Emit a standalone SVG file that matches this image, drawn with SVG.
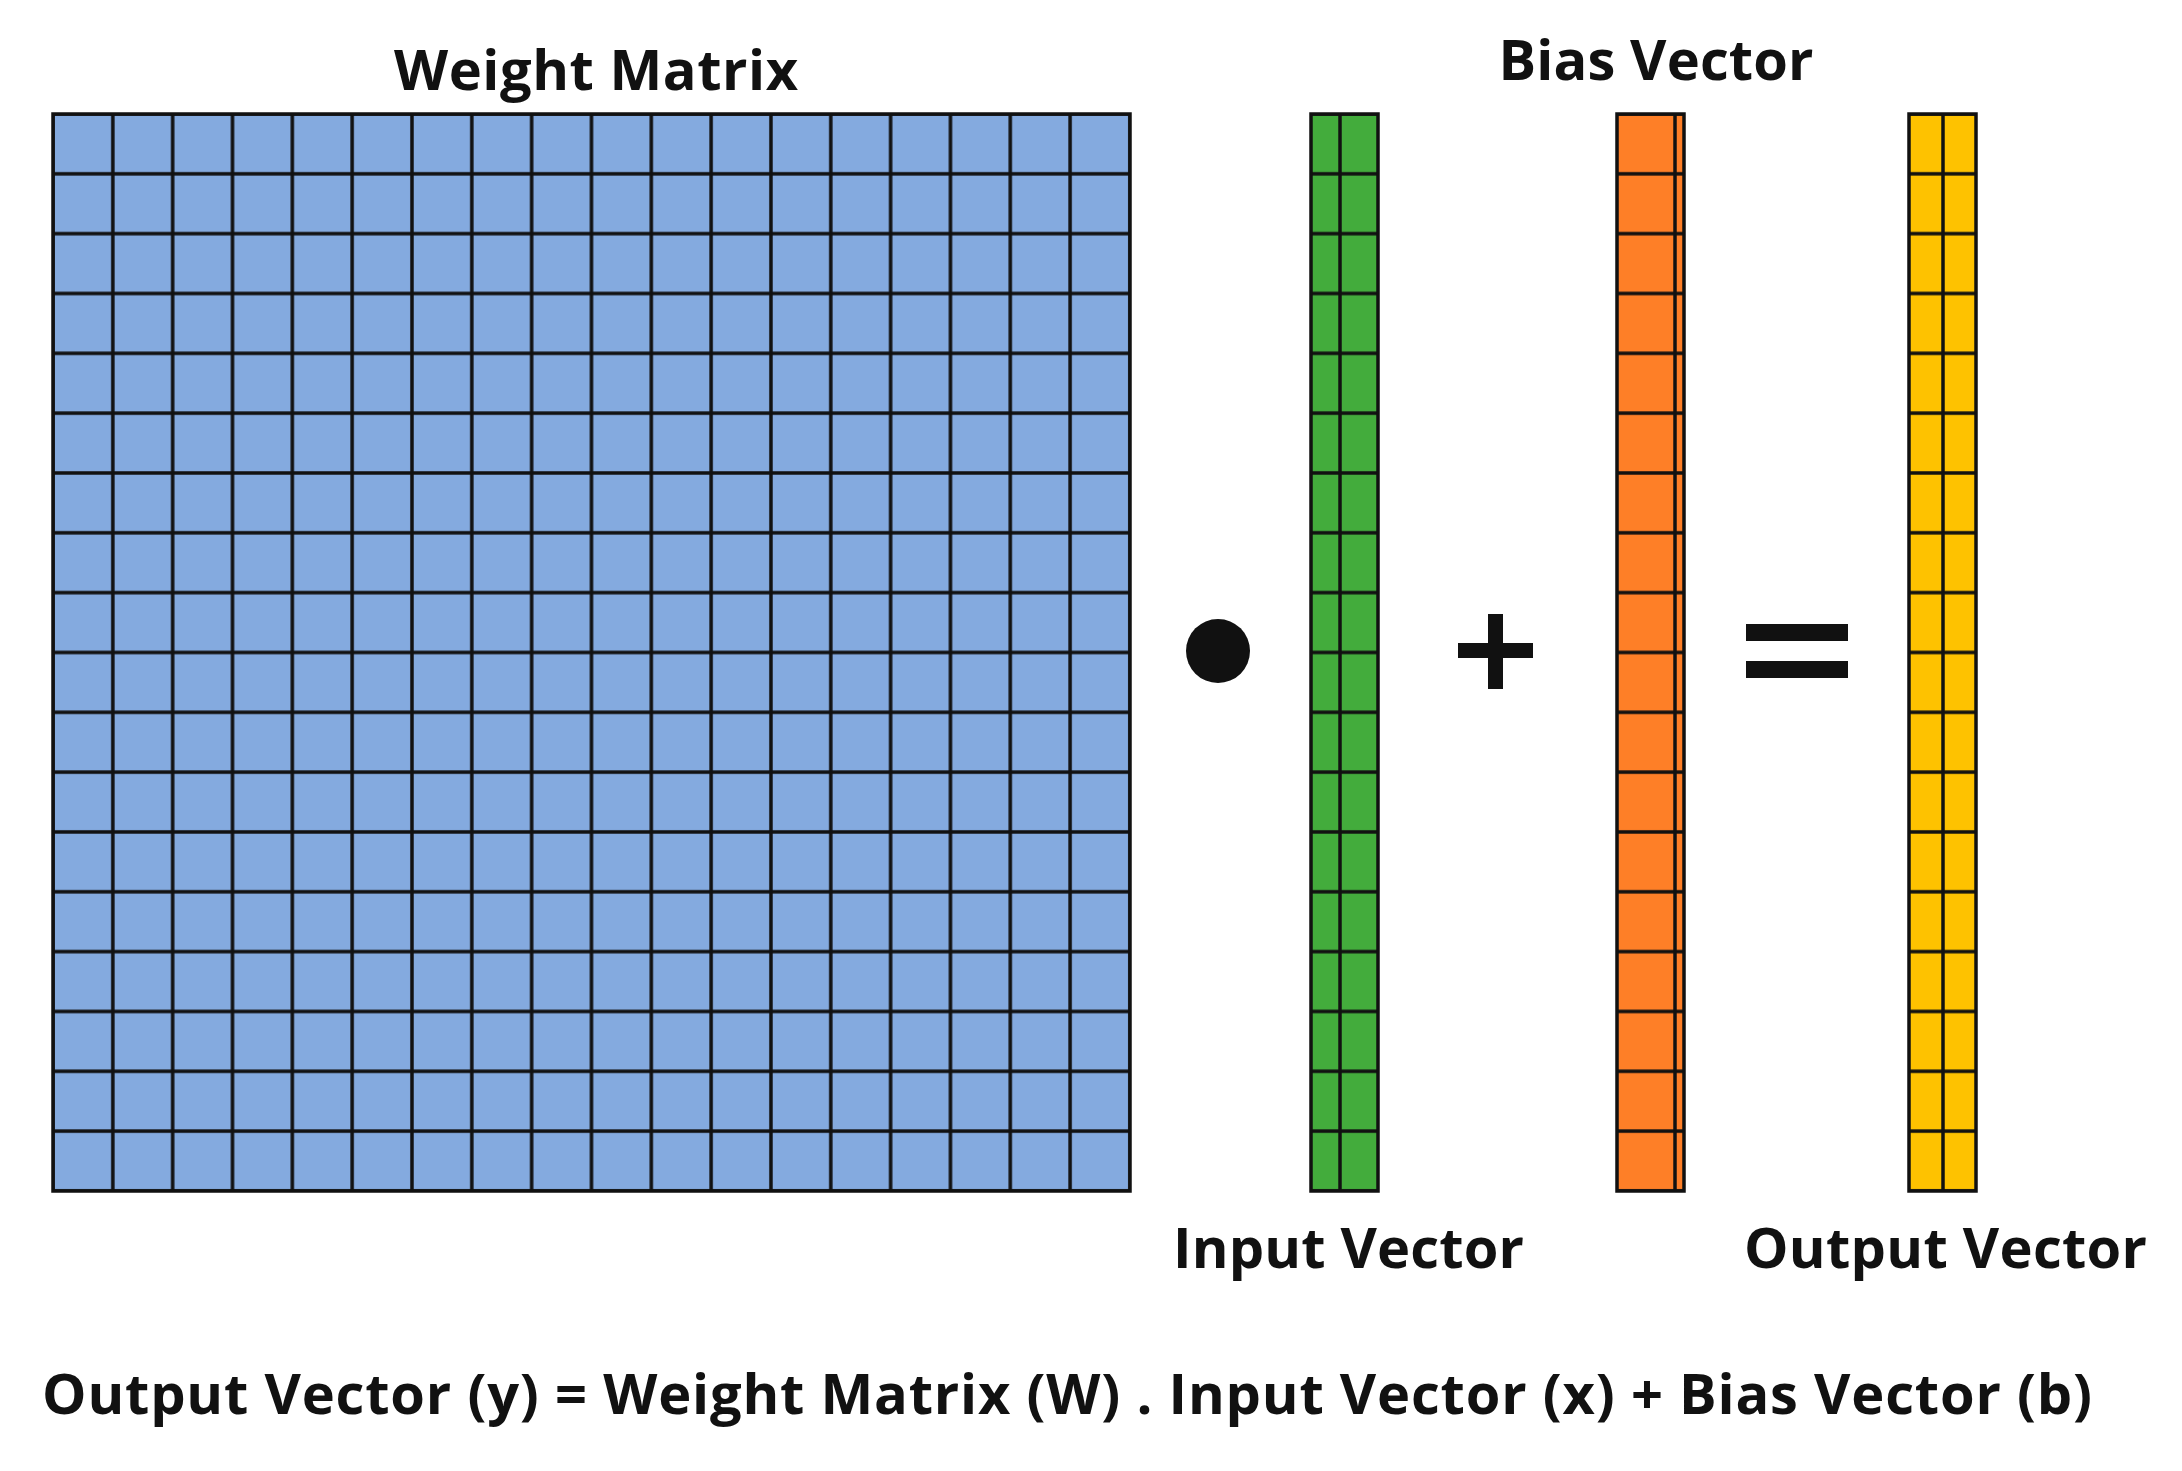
<svg xmlns="http://www.w3.org/2000/svg" width="2182" height="1471" viewBox="0 0 2182 1471">
<style>
.t{font-family:"Open Sans","Liberation Sans",sans-serif;font-weight:bold;fill:#111}
.g{stroke:#111;stroke-width:3.5;fill:none}
</style>
<defs>
<pattern id="pm" x="53" y="114" width="59.83" height="59.83" patternUnits="userSpaceOnUse"><rect width="59.83" height="59.83" fill="#84aadf" stroke="#111" stroke-width="3.5"/></pattern>
<pattern id="pv" x="0" y="114" width="67" height="59.83" patternUnits="userSpaceOnUse"><rect width="67" height="59.83" fill="none" stroke="#111" stroke-width="3.5"/></pattern>
</defs>
<rect width="2182" height="1471" fill="#fff"/>
<g id="weight-matrix">
<rect x="53" y="114" width="1077" height="1077" fill="url(#pm)"/>
<rect x="53" y="114" width="1077" height="1077" class="g"/>
<text class="t" x="596" y="90" font-size="56" text-anchor="middle" textLength="404">Weight Matrix</text>
</g>
<g id="input-vector">
<rect x="1311" y="114" width="67" height="1077" fill="#43ac3c"/>
<rect x="1311" y="114" width="67" height="1077" fill="url(#pv)" transform="translate(0,0)"/>
<rect x="1311" y="114" width="67" height="1077" class="g"/>
<text class="t" x="1173" y="1268" font-size="56" textLength="351">Input Vector</text>
</g>
<g id="bias-vector">
<rect x="1617" y="114" width="67" height="1077" fill="#fe7f27"/>
<rect x="1617" y="114" width="67" height="1077" fill="url(#pv)"/>
<rect x="1617" y="114" width="67" height="1077" class="g"/>
<text class="t" x="1656" y="80" font-size="56" text-anchor="middle" textLength="315">Bias Vector</text>
</g>
<g id="output-vector">
<rect x="1909" y="114" width="67" height="1077" fill="#fec200"/>
<rect x="1909" y="114" width="67" height="1077" fill="url(#pv)"/>
<rect x="1909" y="114" width="67" height="1077" class="g"/>
<text class="t" x="1744" y="1268" font-size="56" textLength="403">Output Vector</text>
</g>
<g id="operators" fill="#111">
<circle cx="1218" cy="651" r="32"/>
<rect x="1458" y="643" width="75" height="15"/>
<rect x="1488" y="614" width="15" height="75"/>
<rect x="1746" y="624" width="102" height="17"/>
<rect x="1746" y="661" width="102" height="17"/>
</g>
<g id="connectors"/>
<text class="t" x="42" y="1414" font-size="56" textLength="2050">Output Vector (y) = Weight Matrix (W) . Input Vector (x) + Bias Vector (b)</text>
</svg>
